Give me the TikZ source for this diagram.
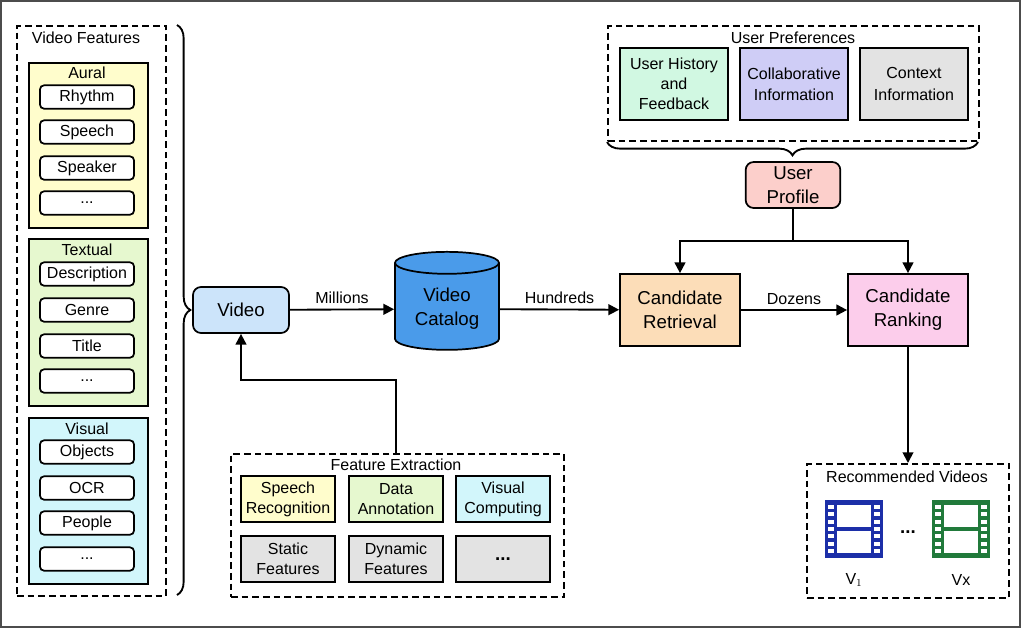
\documentclass[tikz,border=0pt]{standalone}
\usepackage{fontspec}
\setmainfont{Liberation Sans}
\usetikzlibrary{positioning, shapes.geometric, decorations.pathreplacing, arrows.meta}

\definecolor{auralbg}{HTML}{FFFDCC}
\definecolor{textbg}{HTML}{E6F8CF}
\definecolor{visbg}{HTML}{D2F6FB}
\definecolor{videobg}{HTML}{CCE4FA}
\definecolor{catbg}{HTML}{4A9BEA}
\definecolor{retbg}{HTML}{FCDDB8}
\definecolor{rankbg}{HTML}{FCCDEB}
\definecolor{profbg}{HTML}{FCCFCB}
\definecolor{histbg}{HTML}{D1F8E2}
\definecolor{collbg}{HTML}{CFCDF6}
\definecolor{grybg}{HTML}{E3E3E3}
\definecolor{filmblue}{HTML}{1C2FA8}
\definecolor{filmgreen}{HTML}{217A3B}

\tikzset{
  film/.pic={
    \fill[pic actions] (0,0) rectangle (58,58);
    \fill[white] (12,5) rectangle (46,27);
    \fill[white] (12,31) rectangle (46,53);
    \foreach \k in {0,...,6} {
      \fill[white] (3,5+\k*7.3) rectangle (9,9+\k*7.3);
      \fill[white] (49,5+\k*7.3) rectangle (55,9+\k*7.3);
    }
  }
}

\begin{document}
\begin{tikzpicture}[
    x=0.75pt, y=-0.75pt,
    font=\fontsize{12}{14}\selectfont,
    box/.style={draw, line width=1.3pt, align=center, minimum height=34.5pt},
    big/.style={font=\fontsize{14}{18}\selectfont},
    item/.style={draw, line width=1.3pt, rounded corners=3pt, minimum width=70.5pt, minimum height=17.5pt, inner sep=1pt, fill=white},
    group/.style={draw, line width=1.3pt, anchor=north west, inner sep=0pt},
    dashbox/.style={draw, line width=1.4pt, dash pattern=on 5pt off 3pt, anchor=north west, inner sep=0pt},
    flow/.style={-{Triangle[width=8pt,length=8pt]}, line width=1.4pt},
    bracket/.style={decorate, decoration={brace, amplitude=10pt}, line width=1.4pt},
    lbl/.style={font=\fontsize{12}{14}\selectfont}
]
\useasboundingbox (0,0) rectangle (1021,628);
\draw[line width=1pt, black!70] (1,1) rectangle (1020,627);

% Video features
\node[dashbox, minimum width=111.75pt, minimum height=427.5pt] (vf) at (16,25) {};
\node at (86,38) {Video Features};
\node[group, fill=auralbg, minimum width=89.25pt, minimum height=123.75pt] (aural) at (28,62) {};
\node[group, fill=textbg, minimum width=89.25pt, minimum height=125.25pt] (textual) at (28,238) {};
\node[group, fill=visbg, minimum width=89.25pt, minimum height=124.5pt] (visual) at (28,417) {};
\node at (87,73) {Aural};
\node at (87,250) {Textual};
\node at (87,429) {Visual};
\node[item] (rhythm) at (87,97) {Rhythm};
\node[item] (speech) at (87,132) {Speech};
\node[item] (speaker) at (87,168) {Speaker};
\node[item] (amore) at (87,203) {...};
\node[item] (desc) at (87,274) {Description};
\node[item] (genre) at (87,310) {Genre};
\node[item] (title) at (87,346) {Title};
\node[item] (tmore) at (87,381) {...};
\node[item] (objects) at (87,452) {Objects};
\node[item] (ocr) at (87,488) {OCR};
\node[item] (people) at (87,523) {People};
\node[item] (vmore) at (87,559) {...};

% Main flow
\node[box, big, fill=videobg, rounded corners=6pt, minimum width=72pt] (video) at (241,310) {Video};
\node[cylinder, big, shape border rotate=90, draw, line width=1.3pt, fill=catbg, aspect=0.3,
      minimum width=78pt, minimum height=73.5pt, align=center] (catalog) at (447,309) {Video\\Catalog};
\node[box, big, fill=retbg, minimum width=90pt, minimum height=54pt] (retrieval) at (680,310) {Candidate\\Retrieval};
\node[box, big, fill=rankbg, minimum width=90pt, minimum height=54pt] (ranking) at (908,310) {Candidate\\Ranking};
\node[box, big, fill=profbg, rounded corners=6pt, minimum width=71pt, minimum height=34.5pt, inner sep=1pt] (profile) at (793,185) {User\\Profile};

\draw[bracket] (177,25) -- (177,595);

\draw[flow] (video) -- node[above, lbl] {Millions} (catalog);
\draw[flow] (catalog) -- node[above, lbl] {Hundreds} (retrieval);
\draw[flow] (retrieval) -- node[above, lbl] {Dozens} (ranking);

% User preferences
\node[dashbox, minimum width=278.25pt, minimum height=86.25pt] (pref) at (607,25) {};
\node at (793,38) {User Preferences};
\node[box, fill=histbg, minimum width=81pt, minimum height=54pt, font=\fontsize{12}{15}\selectfont] (history) at (674,84) {User History\\and\\Feedback};
\node[box, fill=collbg, minimum width=81pt, minimum height=54pt, font=\fontsize{12}{16}\selectfont] (collab) at (794,84) {Collaborative\\Information};
\node[box, fill=grybg, minimum width=81pt, minimum height=54pt, font=\fontsize{12}{16}\selectfont] (context) at (914,84) {Context\\Information};
\draw[bracket, decoration={mirror}] (607,142) -- (978,142);
\draw[flow] (profile.south) -- ++(0,32) -| (retrieval.north);
\draw[flow] (profile.south) -- ++(0,32) -| (ranking.north);

% Recommended videos
\node[dashbox, minimum width=151.5pt, minimum height=100.5pt] (rec) at (806,463) {};
\node at (907,477) {Recommended Videos};
\draw[flow] (ranking) -- (rec.north -| ranking);
\pic[fill=filmblue] at (825,500) {film};
\pic[fill=filmgreen] at (932,500) {film};
\node[font=\fontsize{14}{16}\selectfont\bfseries] (recdots) at (908,532) {...};
\node (v1) at (854,580) {V$_1$};
\node (vx) at (961,580) {Vx};

% Feature extraction
\node[dashbox, minimum width=249.75pt, minimum height=107.25pt] (fe) at (230,453) {};
\node at (396,465) {Feature Extraction};
\node[box, fill=auralbg, minimum width=71pt, font=\fontsize{12}{15}\selectfont] (speechrec) at (288,499) {Speech\\Recognition};
\node[box, fill=textbg, minimum width=71pt, font=\fontsize{12}{15}\selectfont] (annot) at (396,499) {Data\\Annotation};
\node[box, fill=visbg, minimum width=71pt, font=\fontsize{12}{15}\selectfont] (vcomp) at (503,499) {Visual\\Computing};
\node[box, fill=grybg, minimum width=71pt, font=\fontsize{12}{15}\selectfont] (static) at (288,559) {Static\\Features};
\node[box, fill=grybg, minimum width=71pt, font=\fontsize{12}{15}\selectfont] (dynamic) at (396,559) {Dynamic\\Features};
\node[box, fill=grybg, minimum width=71pt, font=\fontsize{14}{16}\selectfont\bfseries] (femore) at (503,559) {...};
\draw[flow] (fe.north -| annot) |- (241,380) -- (video.south);
\end{tikzpicture}
\end{document}
